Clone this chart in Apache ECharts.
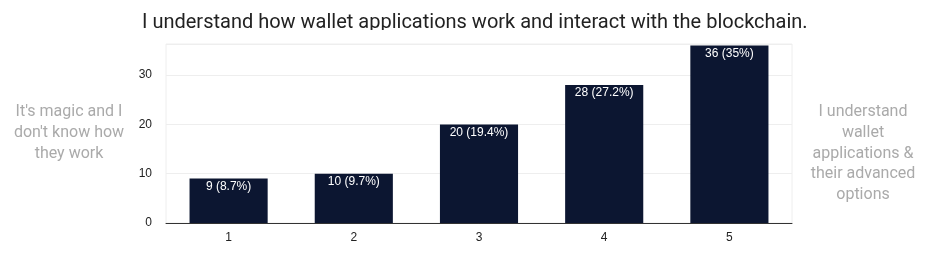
<!DOCTYPE html>
<html><head><meta charset="utf-8">
<script src="https://cdn.jsdelivr.net/npm/echarts@6/dist/echarts.min.js"></script>
<style>html,body{margin:0;padding:0;background:#fff}#c{width:935px;height:256px}</style>
</head><body><div id="c"></div>
<script>
const titleText = 'I understand how wallet applications work and interact with the blockchain.';
const categories = ['1', '2', '3', '4', '5'];
const counts = [9, 10, 20, 28, 36];
const yTicks = [0, 10, 20, 30];
const leftLabel = "It's magic and I\ndon't know how\nthey work";
const rightLabel = "I understand\nwallet\napplications &\ntheir advanced\noptions";

const total = counts.reduce((a, b) => a + b, 0);
function pct(v) { return String(Number((v / total * 100).toFixed(1))); }

const chart = echarts.init(document.getElementById('c'), null, {renderer: 'canvas'});
chart.setOption({
  animation: false,
  textStyle: {fontFamily: 'Roboto, Arial, sans-serif'},
  title: {
    text: titleText, left: 137, top: 8,
    textStyle: {fontFamily: 'Roboto', fontSize: 20, fontWeight: 'normal', color: '#222'}
  },
  grid: {left: 166, right: 143, top: 44, bottom: 33, show: true, borderColor: '#eeeeee', borderWidth: 1, backgroundColor: 'transparent'},
  xAxis: {
    type: 'category', data: categories,
    axisLine: {lineStyle: {color: '#333', width: 1}},
    axisTick: {show: false},
    axisLabel: {color: '#222', fontSize: 12, fontFamily: 'Arial, Liberation Sans', margin: 9}
  },
  yAxis: {
    type: 'value', min: 0, max: 36.3, interval: 10,
    axisLine: {show: false}, axisTick: {show: false},
    splitLine: {lineStyle: {color: '#eeeeee'}},
    axisLabel: {color: '#222', fontSize: 12, fontFamily: 'Arial, Liberation Sans', margin: 14,
      formatter: v => yTicks.includes(v) ? String(v) : ''}
  },
  series: [{
    type: 'bar', data: counts, barCategoryGap: '37.6%',
    itemStyle: {color: '#0c1631'},
    label: {show: true, position: 'insideTop', distance: 2, color: '#fff', fontSize: 12, fontFamily: 'Arial, Liberation Sans', fontWeight: 'normal',
      formatter: p => p.value + ' (' + pct(p.value) + '%)'}
  }],
  graphic: [
    {type: 'rect', left: 120, top: 30, shape: {width: 720, height: 12}, style: {fill: '#fff'}, z: 100},
    {type: 'text', x: 69, y: 102, style: {text: leftLabel, fill: '#aaaaaa', font: '16px Roboto', align: 'center', lineHeight: 20.7}},
    {type: 'text', x: 863, y: 102, style: {text: rightLabel, fill: '#aaaaaa', font: '16px Roboto', align: 'center', lineHeight: 20.6}}
  ]
});
</script></body></html>
